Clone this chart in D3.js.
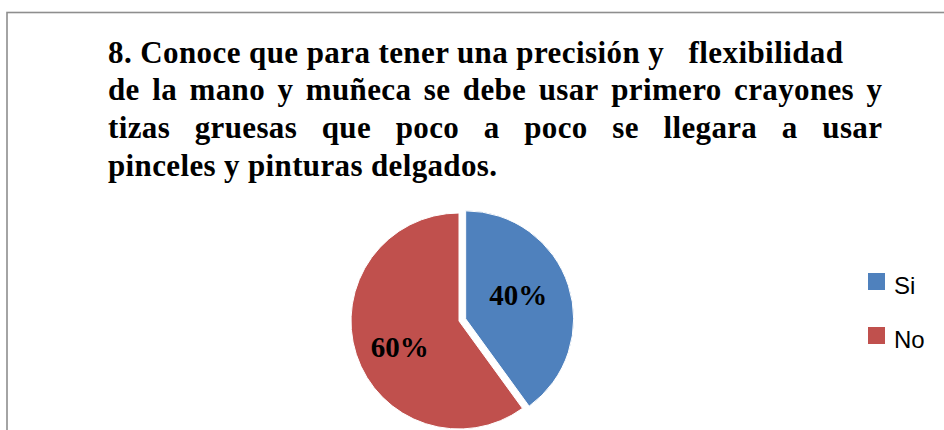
<!DOCTYPE html>
<html>
<head>
<meta charset="utf-8">
<script src="https://cdn.jsdelivr.net/npm/d3@7"></script>
<style>
  html, body { margin: 0; padding: 0; background: #fff; }
  svg { display: block; }
</style>
</head>
<body>
<svg id="chart" width="944" height="430"></svg>
<script>
// ---- data ----
const titleLines = [
  "8. Conoce que para tener una precisión y   flexibilidad",
  "de la mano y muñeca se debe usar primero crayones y",
  "tizas gruesas que poco a poco se llegara a usar",
  "pinceles y pinturas delgados."
];
const titleAlign = ["natural", "justify", "justify", "natural"];
const categories = ["Si", "No"];
const values = [40, 60];
const colors = ["#4F81BD", "#C0504D"];

// ---- layout ----
const W = 944, H = 430;
const svg = d3.select("#chart");

// outer frame
svg.append("rect")
  .attr("x", 7).attr("y", 12.5)
  .attr("width", 1200).attr("height", 1200)
  .attr("fill", "none").attr("stroke", "#8e8e8e").attr("stroke-width", 1.6);

// ---- title ----
const titleFont = "'Liberation Serif', 'Times New Roman', serif";
const tSize = 31;
const tLeft = 108, tRight = 882, firstRight = 843;
const baselines = [62.5, 100.2, 137.9, 175.6];
const lastWidthTarget = 389;

const tg = svg.append("g");
function mk(str, ls) {
  return tg.append("text")
    .attr("font-family", titleFont).attr("font-weight", "bold")
    .attr("font-size", tSize).attr("fill", "#000")
    .attr("letter-spacing", ls)
    .style("white-space", "pre")
    .text(str);
}
// derive letter spacing from the last line width
const probe = mk(titleLines[3], 0);
const w0 = probe.node().getComputedTextLength();
probe.remove();
const ls = Math.max(0, (lastWidthTarget - w0) / (titleLines[3].length - 1));

titleLines.forEach((line, i) => {
  if (titleAlign[i] === "justify") {
    const words = line.split(/\s+/);
    const nodes = words.map(wd => mk(wd, ls));
    const widths = nodes.map(n => n.node().getComputedTextLength() - ls);
    const total = d3.sum(widths);
    const gap = (tRight - tLeft - total) / (words.length - 1);
    let x = tLeft;
    nodes.forEach((n, k) => {
      n.attr("x", x).attr("y", baselines[i]);
      x += widths[k] + gap;
    });
  } else {
    const t = mk(line, ls).attr("x", tLeft).attr("y", baselines[i]);
    if (i === 0) {
      const w = t.node().getComputedTextLength() - ls;
      const extra = (firstRight - tLeft - w) / (line.length - 1);
      t.attr("letter-spacing", ls + extra);
    }
  }
});

// ---- pie ----
const cx = 459, cy = 321, R = 108;
const explode = [7, 0];
const pie = d3.pie().sort(null).value(d => d)(values);
const arc = d3.arc().innerRadius(0).outerRadius(R);
const pg = svg.append("g").attr("transform", `translate(${cx},${cy})`);

pg.selectAll("path").data(pie).join("path")
  .attr("d", arc)
  .attr("fill", (d, i) => colors[i])
  .attr("stroke", "#fff").attr("stroke-width", 1)
  .attr("transform", (d, i) => {
    const a = (d.startAngle + d.endAngle) / 2;
    return `translate(${explode[i] * Math.sin(a)},${-explode[i] * Math.cos(a)})`;
  });

const fmt = v => Math.round(v / d3.sum(values) * 100) + "%";
const labelR = 65, labelRot = -0.105;
pg.selectAll("text.lbl").data(pie).join("text")
  .attr("class", "lbl")
  .attr("font-family", titleFont).attr("font-weight", "bold")
  .attr("font-size", 29).attr("fill", "#000")
  .attr("text-anchor", "middle")
  .attr("x", d => labelR * Math.sin((d.startAngle + d.endAngle) / 2 + labelRot))
  .attr("y", d => -labelR * Math.cos((d.startAngle + d.endAngle) / 2 + labelRot) + 10)
  .text(d => fmt(d.value));

// ---- legend ----
const lg = svg.append("g");
const legY = [273, 327];
categories.forEach((c, i) => {
  lg.append("rect")
    .attr("x", 868).attr("y", legY[i])
    .attr("width", 17).attr("height", 17)
    .attr("fill", colors[i]);
  lg.append("text")
    .attr("x", 894).attr("y", legY[i] + 21)
    .attr("font-family", "'Liberation Sans', Arial, sans-serif")
    .attr("font-size", 24).attr("fill", "#000")
    .text(c);
});
</script>
</body>
</html>
